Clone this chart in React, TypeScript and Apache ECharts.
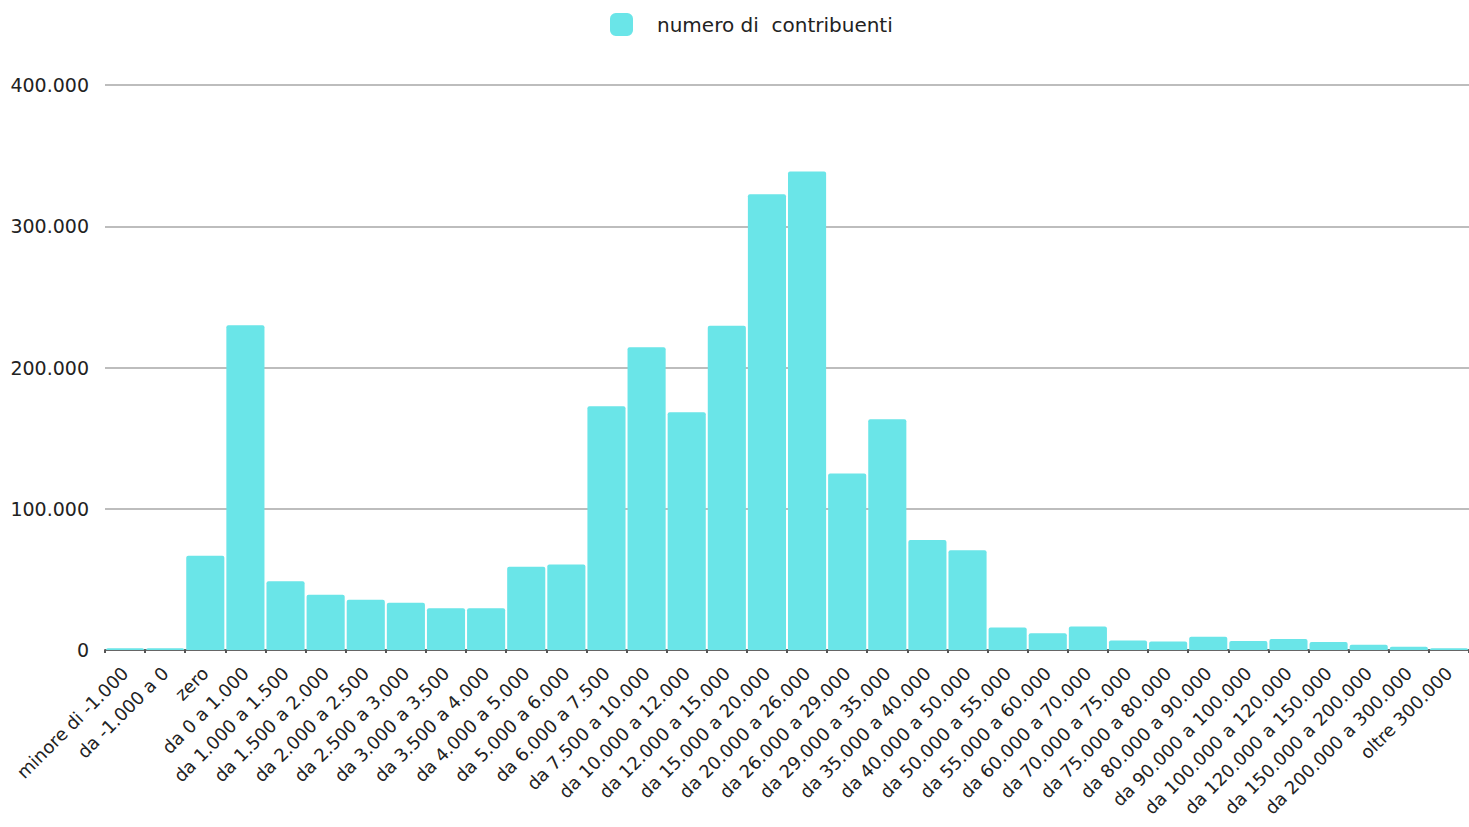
import React, { useEffect, useRef } from "react";
import * as echarts from "echarts";

const categories = [
  "minore di -1.000", "da -1.000 a 0", "zero", "da 0 a 1.000", "da 1.000 a 1.500",
  "da 1.500 a 2.000", "da 2.000 a 2.500", "da 2.500 a 3.000", "da 3.000 a 3.500",
  "da 3.500 a 4.000", "da 4.000 a 5.000", "da 5.000 a 6.000", "da 6.000 a 7.500",
  "da 7.500 a 10.000", "da 10.000 a 12.000", "da 12.000 a 15.000", "da 15.000 a 20.000",
  "da 20.000 a 26.000", "da 26.000 a 29.000", "da 29.000 a 35.000", "da 35.000 a 40.000",
  "da 40.000 a 50.000", "da 50.000 a 55.000", "da 55.000 a 60.000", "da 60.000 a 70.000",
  "da 70.000 a 75.000", "da 75.000 a 80.000", "da 80.000 a 90.000", "da 90.000 a 100.000",
  "da 100.000 a 120.000", "da 120.000 a 150.000", "da 150.000 a 200.000",
  "da 200.000 a 300.000", "oltre 300.000",
];

const contribuenti = [
  1300, 1300, 66800, 229900, 48600,
  39100, 35600, 33500, 29600,
  29600, 59000, 60600, 172500,
  214300, 168400, 229600, 322600,
  338700, 125000, 163300, 77900,
  70600, 16000, 11800, 16700,
  6800, 6100, 9400, 6400,
  7800, 5700, 3800,
  2300, 1200,
];

const seriesName = "numero di  contribuenti";
const yTicks = { min: 0, max: 400000, interval: 100000 };

const fmt = (v: number) => String(v).replace(/\B(?=(\d{3})+(?!\d))/g, ".");

export default function App() {
  const ref = useRef<HTMLDivElement>(null);
  useEffect(() => {
    const chart = echarts.init(ref.current!, null, { renderer: "svg" });
    chart.setOption({
      animation: false,
      backgroundColor: "#ffffff",
      legend: {
        left: 610,
        top: 13,
        padding: 0,
        itemWidth: 23,
        itemHeight: 23,
        icon: "roundRect",
        textStyle: {
          fontFamily: "DejaVu Sans",
          fontSize: 20,
          color: "#222",
          padding: [0, 0, 0, 19],
        },
        data: [seriesName],
      },
      grid: {
        left: 105,
        right: 0,
        top: 85,
        bottom: 177,
        containLabel: false,
        outerBoundsMode: "none",
      },
      xAxis: {
        type: "category",
        data: categories,
        axisLine: { lineStyle: { color: "#666", width: 2 } },
        axisTick: { show: true, length: 3, lineStyle: { color: "#555", width: 2 } },
        axisLabel: {
          rotate: 45,
          interval: 0,
          margin: 20,
          fontFamily: "DejaVu Sans",
          fontSize: 18,
          color: "#222",
        },
      },
      yAxis: {
        type: "value",
        min: yTicks.min,
        max: yTicks.max,
        interval: yTicks.interval,
        axisLine: { show: false },
        axisTick: { show: false },
        splitLine: { lineStyle: { color: "#bdbdbd", width: 2 } },
        axisLabel: {
          margin: 16,
          fontFamily: "DejaVu Sans",
          fontSize: 19,
          color: "#222",
          formatter: (v: number) => fmt(v),
        },
      },
      series: [
        {
          name: seriesName,
          type: "bar",
          data: contribuenti,
          barCategoryGap: "5%",
          itemStyle: { color: "#6ae5e8", borderRadius: [2, 2, 0, 0] },
        },
      ],
    });
    return () => chart.dispose();
  }, []);
  return <div ref={ref} style={{ width: 1469, height: 827, position: "absolute", left: 0, top: 0 }} />;
}
